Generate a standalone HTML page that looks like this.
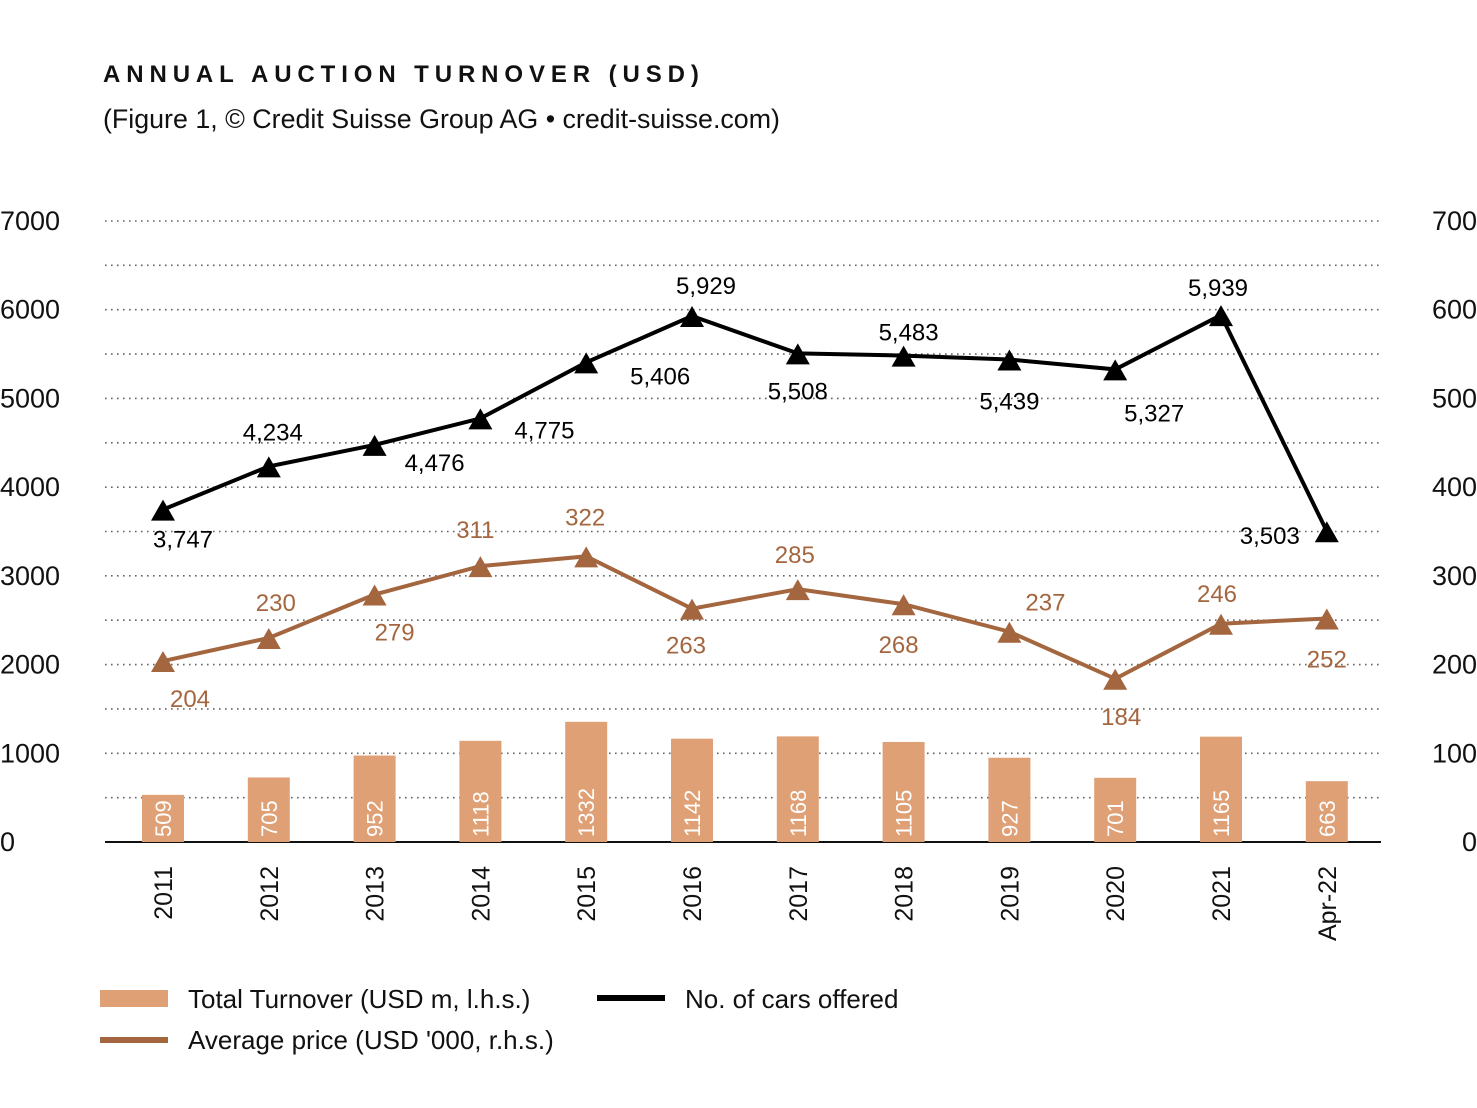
<!DOCTYPE html>
<html><head><meta charset="utf-8"><style>
html,body{margin:0;padding:0;background:#fff;}
svg{display:block;font-family:"Liberation Sans",sans-serif;}
</style></head><body>
<svg id="chart" width="1477" height="1108" viewBox="0 0 1477 1108" xmlns="http://www.w3.org/2000/svg">
<text x="103" y="82" font-size="24" font-weight="bold" letter-spacing="5.9" fill="#111">ANNUAL AUCTION TURNOVER (USD)</text>
<text x="103" y="128" font-size="26.8" fill="#111">(Figure 1, © Credit Suisse Group AG • credit-suisse.com)</text>
<g id="grid"></g>
<g id="axes"></g>
<g id="bars"></g>
<g id="avg"></g>
<g id="cars"></g>
<g>
<rect x="100" y="990" width="68" height="17" fill="#dfa075"/>
<text x="188" y="1008" font-size="26" fill="#111">Total Turnover (USD m, l.h.s.)</text>
<rect x="597" y="995" width="68" height="6" fill="#000"/>
<text x="685" y="1008" font-size="26" fill="#111">No. of cars offered</text>
<rect x="100" y="1037" width="68" height="6" fill="#a4663f"/>
<text x="188" y="1049" font-size="26" fill="#111">Average price (USD '000, r.h.s.)</text>
</g>
</svg>
<script>
const categories = ["2011","2012","2013","2014","2015","2016","2017","2018","2019","2020","2021","Apr-22"];
const turnover = [509,705,952,1118,1332,1142,1168,1105,927,701,1165,663];
const carsOffered = [3747,4234,4476,4775,5406,5929,5508,5483,5439,5327,5939,3503];
const carsLabels = ["3,747","4,234","4,476","4,775","5,406","5,929","5,508","5,483","5,439","5,327","5,939","3,503"];
const avgPrice = [204,230,279,311,322,263,285,268,237,184,246,252];
const leftTicks = [0,1000,2000,3000,4000,5000,6000,7000];
const rightTicks = [0,100,200,300,400,500,600,700];
// label placement styling
const carsPos = [[20,38],[4,-26],[60,26],[64,20],[74,22],[14,-22],[0,46],[5,-15],[0,50],[39,52],[-3,-19],[-57,13]];
const avgPos = [[27,46],[7,-27],[20,46],[-5,-28],[-1,-31],[-6,45],[-3,-26],[-5,49],[36,-21],[6,46],[-4,-22],[0,49]];

const NS="http://www.w3.org/2000/svg";
const x0=163, step=105.8, y0=842, pxPerUnit=621/7000;
const xs=i=>x0+i*step;
const yL=v=>y0-v*pxPerUnit;
const yR=v=>y0-v*pxPerUnit*10;
function mk(tag,attrs,parent,text){const e=document.createElementNS(NS,tag);for(const k in attrs)e.setAttribute(k,attrs[k]);if(text!==undefined)e.textContent=text;parent.appendChild(e);return e;}
const grid=document.getElementById('grid'),axes=document.getElementById('axes'),bars=document.getElementById('bars'),avg=document.getElementById('avg'),cars=document.getElementById('cars');
for(let v=500;v<=7000;v+=500){
  const l=mk('line',{x1:105,x2:1381,y1:yL(v),y2:yL(v),stroke:'#666','stroke-width':1.6,'stroke-dasharray':'1.6 4.4'},grid);
  
  
}
leftTicks.forEach(v=>{
  const t=mk('text',{x:0,y:yL(v)+9,'font-size':27,fill:'#111'},axes,String(v));
  
  
});
rightTicks.forEach(v=>{
  const t=mk('text',{x:1477,y:yR(v)+9,'font-size':27,fill:'#111','text-anchor':'end'},axes,String(v));
  
  
});
categories.forEach((c,i)=>{
  const t=mk('text',{transform:`translate(${xs(i)+9},${866}) rotate(-90)`,'font-size':25,fill:'#111','text-anchor':'end'},axes,c);
  
  
});
turnover.forEach((v,i)=>{
  const r=mk('rect',{x:xs(i)-21,y:yL(v)-2,width:42,height:v*pxPerUnit+2,fill:'#dfa075'},bars);
  
  
  const t=mk('text',{transform:`translate(${xs(i)+8},${837}) rotate(-90)`,'font-size':22,fill:'#fff'},bars,String(v));
  
  
});
const baseline=mk('line',{x1:105,x2:1381,y1:y0,y2:y0,stroke:'#111','stroke-width':2},axes);


function series(g,vals,yf,color,pos,labels,name){
  const pl=mk('polyline',{points:vals.map((v,i)=>xs(i)+','+yf(v)).join(' '),fill:'none',stroke:color,'stroke-width':4},g);
  
  
  vals.forEach((v,i)=>{
    const x=xs(i),y=yf(v);
    const m=mk('polygon',{points:`${x},${y-10} ${x-12},${y+11} ${x+12},${y+11}`,fill:color},g);
    
    
    const t=mk('text',{x:x+pos[i][0],y:y+pos[i][1],'font-size':24,fill:color,'text-anchor':'middle'},g,labels[i]);
    
    
  });
}
series(avg,avgPrice,yR,'#a4663f',avgPos,avgPrice.map(String),'average-price');
series(cars,carsOffered,yL,'#000',carsPos,carsLabels,'cars-offered');
</script>
</body></html>
